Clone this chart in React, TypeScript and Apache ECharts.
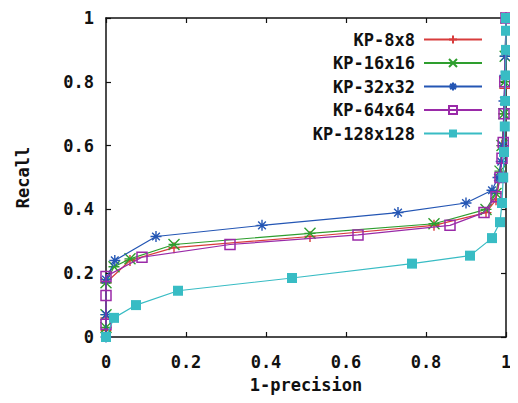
import React, { useEffect, useRef } from "react";
import * as echarts from "echarts";

const seriesNames = ["KP-8x8", "KP-16x16", "KP-32x32", "KP-64x64", "KP-128x128"];

const kp8: number[][] = [
  [0, 0.02], [0, 0.06], [0, 0.17], [0.06, 0.24], [0.17, 0.28], [0.51, 0.315],
  [0.82, 0.35], [0.95, 0.39], [0.975, 0.43], [0.985, 0.5], [0.99, 0.6],
  [0.995, 0.7], [0.997, 0.78], [1, 1],
];
const kp16: number[][] = [
  [0, 0.03], [0, 0.07], [0, 0.17], [0.02, 0.22], [0.06, 0.245], [0.17, 0.29],
  [0.51, 0.325], [0.82, 0.355], [0.95, 0.4], [0.975, 0.45], [0.985, 0.52],
  [0.99, 0.6], [0.995, 0.7], [0.997, 0.8], [0.998, 0.88], [1, 1],
];
const kp32: number[][] = [
  [0, 0.0], [0, 0.07], [0, 0.18], [0.022, 0.24], [0.125, 0.315], [0.39, 0.35],
  [0.73, 0.39], [0.9, 0.42], [0.965, 0.46], [0.98, 0.5], [0.988, 0.55],
  [0.992, 0.6], [0.995, 0.74], [0.997, 0.82], [0.998, 0.88], [1, 1],
];
const kp64: number[][] = [
  [0, 0.04], [0, 0.13], [0, 0.19], [0.09, 0.25], [0.31, 0.29], [0.63, 0.32],
  [0.86, 0.35], [0.945, 0.39], [0.975, 0.44], [0.985, 0.5], [0.99, 0.56],
  [0.993, 0.61], [0.995, 0.7], [0.997, 0.8], [1, 1],
];
const kp128: number[][] = [
  [0, 0.0], [0.02, 0.06], [0.075, 0.1], [0.18, 0.145], [0.465, 0.185],
  [0.765, 0.23], [0.91, 0.255], [0.965, 0.31], [0.985, 0.36], [0.99, 0.42],
  [0.993, 0.5], [0.995, 0.58], [0.997, 0.66], [0.998, 0.74], [0.999, 0.82],
  [1, 0.9], [1, 0.96], [1, 1],
];

const colors = ["#d83c3c", "#2e9e2e", "#2456b4", "#9a2aa8", "#38bcc4"];
const symbols = [
  "path://M0,5L10,5M5,0L5,10",
  "path://M0,0L10,10M10,0L0,10M0,5L10,5",
  "path://M0,5L10,5M5,0L5,10M1.5,1.5L8.5,8.5M8.5,1.5L1.5,8.5",
  "rect",
  "rect",
];

const FONT = "DejaVu Sans Mono";

const tickFmt = (v: number) => {
  const r = Math.round(v * 10) / 10;
  if (r === 0) return "0";
  if (r === 1) return "1";
  return r.toFixed(1);
};

export default function App() {
  const ref = useRef<HTMLDivElement>(null);
  useEffect(() => {
    if (!ref.current) return;
    const chart = echarts.init(ref.current, undefined, { renderer: "svg" });
    const datasets = [kp8, kp16, kp32, kp64, kp128];
    const axisCommon = {
      type: "value" as const,
      min: 0,
      max: 1,
      interval: 0.2,
      splitLine: { show: false },
      axisLine: { show: true, onZero: false, lineStyle: { color: "#111", width: 1.5 } },
      axisTick: { show: true, inside: true, length: 5, lineStyle: { color: "#111", width: 1.2 } },
    };
    const labelStyle = {
      fontFamily: FONT,
      fontWeight: "bold" as const,
      fontSize: 17,
      color: "#111",
    };
    chart.setOption({
      animation: false,
      backgroundColor: "#fff",
      grid: { left: 106, right: 12, top: 18, bottom: 66, containLabel: false },
      legend: {
        show: true,
        data: seriesNames,
        orient: "vertical",
        align: "right",
        right: 30,
        top: 26,
        itemGap: 6.5,
        itemWidth: 58,
        itemHeight: 10,
        textStyle: { ...labelStyle, width: 112, align: "right", padding: [0, 4, 0, 0] },
        backgroundColor: "rgba(255,255,255,0.8)",
      },
      xAxis: [
        {
          ...axisCommon,
          position: "bottom",
          name: "1-precision",
          nameLocation: "middle",
          nameGap: 39,
          nameTextStyle: labelStyle,
          axisLabel: { ...labelStyle, margin: 25, verticalAlign: "middle", lineHeight: 17, formatter: tickFmt },
        },
        {
          ...axisCommon,
          position: "top",
          axisLabel: { show: false },
        },
      ],
      yAxis: [
        {
          ...axisCommon,
          position: "left",
          name: "Recall",
          nameLocation: "middle",
          nameGap: 75,
          nameRotate: 90,
          nameTextStyle: labelStyle,
          axisLabel: { ...labelStyle, margin: 12, formatter: tickFmt },
        },
        {
          ...axisCommon,
          position: "right",
          axisLabel: { show: false },
        },
      ],
      series: datasets.map((d, i) => ({
        name: seriesNames[i],
        type: "line",
        data: d,
        symbol: symbols[i],
        symbolSize: i >= 3 ? 10 : 11,
        showAllSymbol: true,
        z: 2 + i,
        lineStyle: { color: colors[i], width: 1.2 },
        itemStyle:
          i === 4
            ? { color: colors[i], borderColor: colors[i], borderWidth: 0 }
            : i === 3
            ? { color: "rgba(255,255,255,0)", borderColor: colors[i], borderWidth: 1.5 }
            : { color: colors[i], borderColor: colors[i], borderWidth: 1.4 },
      })),
    });
    return () => chart.dispose();
  }, []);
  return <div ref={ref} style={{ width: 518, height: 403, marginTop: -8, marginLeft: -8 }} />;
}
